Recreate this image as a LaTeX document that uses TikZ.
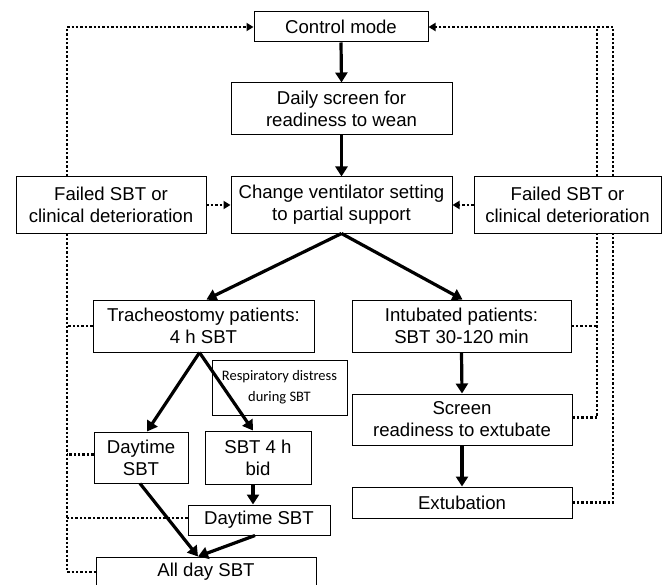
\documentclass[tikz,border=0pt]{standalone}
\usepackage{fontspec}
\setmainfont{Liberation Sans}
\newfontfamily\calfont{Carlito}
\usetikzlibrary{arrows.meta}
\begin{document}
\begin{tikzpicture}[x=1pt,y=-1pt,
  box/.style={draw, line width=1pt, fill=white, inner sep=0pt, align=center,
    font=\fontsize{18.6pt}{22pt}\selectfont},
  flow/.style={line width=3.2pt, -{Triangle[length=10pt,width=12pt]}},
  fb/.style={line width=2.8pt, dash pattern=on 2.4pt off 2pt},
  fbarrow/.style={fb, -{Triangle[length=7pt,width=8pt]}}]
\useasboundingbox (0,0) rectangle (663,585);
\coordinate (L) at (67,0);
\coordinate (R1) at (597,0);
\coordinate (R2) at (613,0);

% nodes
\node[box, minimum width=174pt, minimum height=30pt] (ctrl) at (341,27) {Control mode};
\node[box, minimum width=221pt, minimum height=52pt] (daily) at (341.5,109) {Daily screen for\\readiness to wean};
\node[box, minimum width=221pt, minimum height=56pt] (change) at (341.5,205) {Change ventilator setting\\to partial support};
\node[box, minimum width=190pt, minimum height=56pt] (failL) at (111,205) {Failed SBT or\\clinical deterioration};
\node[box, minimum width=187pt, minimum height=56pt] (failR) at (567.5,205) {Failed SBT or\\clinical deterioration};
\node[box, minimum width=221pt, minimum height=52pt] (trach) at (203.5,326) {Tracheostomy patients:\\4 h SBT};
\node[box, minimum width=219pt, minimum height=52pt] (intub) at (461.5,326) {Intubated patients:\\SBT 30-120 min};
\node[box, minimum width=135pt, minimum height=55pt,
  font=\calfont\fontsize{14.5pt}{21pt}\selectfont] (resp) at (279.5,387.5) {Respiratory distress\\during SBT};
\node[box, minimum width=94pt, minimum height=51pt] (dayL) at (141,457.5) {Daytime\\SBT};
\node[box, minimum width=106pt, minimum height=53pt] (bid) at (258,457.5) {SBT 4 h\\bid};
\node[box, minimum width=142pt, minimum height=30pt] (dayB) at (259,520) {Daytime SBT};
\node[box, minimum width=220pt, minimum height=30pt] (allday) at (206,572) {All day SBT};
\node[box, minimum width=220pt, minimum height=51pt] (screen) at (462,419.5) {Screen\\readiness to extubate};
\node[box, minimum width=220pt, minimum height=31pt] (extub) at (462,502.5) {Extubation};

% solid flow
\draw[flow] (ctrl.south) -- (daily.north);
\draw[flow] (daily.south) -- (change.north);
\draw[flow] (change.south) -- ([xshift=3pt]trach.north);
\draw[flow] (change.south) -- ([xshift=1pt]intub.north);
\draw[flow] ([xshift=-4pt]trach.south) -- ([xshift=6pt]dayL.north);
\draw[flow] ([xshift=-4pt]trach.south) -- ([xshift=-5pt]bid.north);
\draw[flow] ([xshift=-5pt]bid.south) -- ([xshift=-5pt]bid.south |- dayB.north);
\draw[flow] ([xshift=-1pt]dayL.south) -- ([xshift=-8pt]allday.north);
\draw[flow] ([xshift=-4pt]dayB.south) -- ([xshift=-8pt]allday.north);
\draw[flow] (intub.south) -- (screen.north);
\draw[flow] (screen.south) -- (extub.north);

% feedback (dotted)
\draw[fbarrow] (failL.north -| L) |- (ctrl.west);
\draw[fbarrow] (failL.east) -- (change.west);
\draw[fbarrow] (failR.west) -- (change.east);
\draw[fb] (failL.south -| L) |- (allday.west);
\draw[fb] (trach.west) -- (trach.west -| L);
\draw[fb] ([yshift=3pt]dayL.west) -- ([yshift=3pt]dayL.west -| L);
\draw[fb] ([yshift=2pt]dayB.west) -- ([yshift=2pt]dayB.west -| L);

\draw[fbarrow] (failR.north -| R2) |- (ctrl.east);
\draw[fb] (failR.north -| R1) -- (ctrl.east -| R1);
\draw[fb] (extub.east) -| (failR.south -| R2);
\draw[fb] ([yshift=2pt]screen.east) -| (failR.south -| R1);
\draw[fb] (intub.east) -- (intub.east -| R1);
\end{tikzpicture}
\end{document}
